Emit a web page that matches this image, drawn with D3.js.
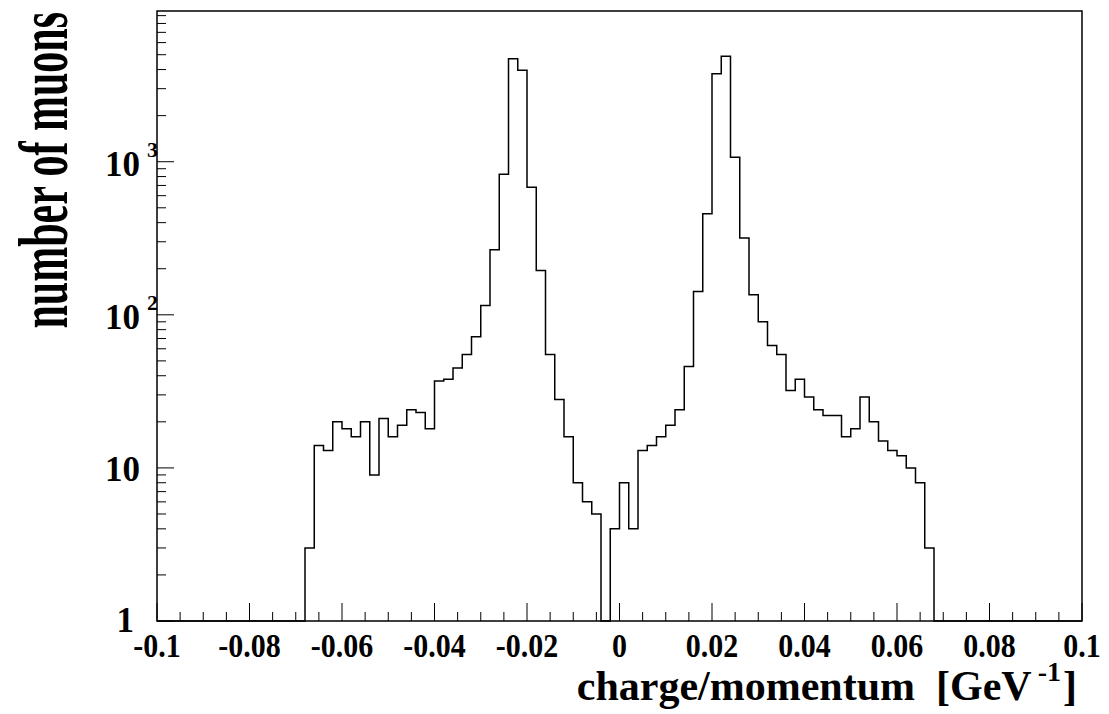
<!DOCTYPE html>
<html>
<head>
<meta charset="utf-8">
<script src="https://cdn.jsdelivr.net/npm/d3@7"></script>
<style>
  html, body { margin: 0; padding: 0; background: #fff; }
  svg { display: block; }
  text { font-family: "Liberation Serif", "Times New Roman", serif; font-weight: bold; fill: #000; white-space: pre; }
</style>
</head>
<body>
<svg id="chart" width="1109" height="714"></svg>
<script>
// Histogram: 100 bins from -0.1 to 0.1 (width 0.002)
const binLow = -0.1;
const binHigh = 0.1;
const binCount = 100;
// counts per bin, left to right
const counts = [
  0,0,0,0,0,0,0,0,0,0,0,0,0,0,0,0,          // -0.100 .. -0.070
  3,14,13,20,18,16,20,9,21,16,               // -0.068 .. -0.050
  19,24,23,18,37,38,45,55,72,115,            // -0.048 .. -0.030
  266,827,4710,3955,681,195,55,28,16,8,      // -0.028 .. -0.010
  6,5,0,4,8,4,13,14,16,19,                   // -0.008 .. 0.010
  24,46,142,457,3756,4880,1069,318,135,90,   // 0.012 .. 0.030
  63,55,32,38,29,24,22,22,16,18,             // 0.032 .. 0.050
  29,20,15,13,12,10,8,3,                     // 0.052 .. 0.066
  0,0,0,0,0,0,0,0,0,0,0,0,0,0,0,0            // 0.068 .. 0.098
];
const xMajorTicks = [-0.1,-0.08,-0.06,-0.04,-0.02,0,0.02,0.04,0.06,0.08,0.1];
const xTickLabels = ["-0.1","-0.08","-0.06","-0.04","-0.02","0","0.02","0.04","0.06","0.08","0.1"];
const yMajorTicks = [1,10,100,1000];
const yTickBase = ["1","10","10","10"];
const yTickExp  = ["","","2","3"];
const yDomain = [1, 9650];
const xTitle = "charge/momentum  [GeV";
const xTitleExp = "-1";
const xTitleEnd = "]";
const yTitle = "number of muons";

const svg = d3.select("#chart");
const L = 157, R = 1082, T = 11, B = 621;

const x = d3.scaleLinear().domain([binLow, binHigh]).range([L, R]);
const y = d3.scaleLog().domain(yDomain).range([B, T]);

// Histogram step path
const bw = (binHigh - binLow) / binCount;
const pts = [];
counts.forEach((c, i) => {
  const v = Math.max(c, yDomain[0]);
  const x0 = binLow + i * bw, x1 = x0 + bw;
  pts.push([x(x0), y(v)]);
  pts.push([x(x1), y(v)]);
});
svg.append("path")
  .attr("d", d3.line()(pts))
  .attr("fill", "none")
  .attr("stroke", "#000")
  .attr("stroke-width", 1.5);

// X ticks
const xMinor = d3.range(0, 41).map(i => +(binLow + i * 0.005).toFixed(4));
svg.append("g").selectAll("line").data(xMinor).join("line")
  .attr("x1", d => x(d)).attr("x2", d => x(d))
  .attr("y1", B).attr("y2", d => B - (xMajorTicks.some(m => Math.abs(m - d) < 1e-9) ? 18 : 9))
  .attr("stroke", "#000").attr("stroke-width", 1);

// Y ticks
const yMinor = [];
[1,10,100,1000].forEach(dec => { for (let k = 1; k <= 9; k++) { const v = dec * k; if (v <= yDomain[1]) yMinor.push(v); } });
svg.append("g").selectAll("line").data(yMinor).join("line")
  .attr("y1", d => y(d)).attr("y2", d => y(d))
  .attr("x1", L).attr("x2", d => L + (yMajorTicks.includes(d) ? 17 : 9))
  .attr("stroke", "#000").attr("stroke-width", 1);

// Frame
svg.append("rect")
  .attr("x", L).attr("y", T).attr("width", R - L).attr("height", B - T)
  .attr("fill", "none").attr("stroke", "#000").attr("stroke-width", 1.5);

// X tick labels
svg.append("g").selectAll("text").data(xMajorTicks).join("text")
  .attr("transform", d => `translate(${x(d)},657) scale(1,1.15)`)
  .attr("text-anchor", "middle")
  .style("font-size", "30px")
  .text((d, i) => xTickLabels[i]);

// Y tick labels
yMajorTicks.forEach((v, i) => {
  if (yTickExp[i] === "") {
    svg.append("text")
      .attr("x", yTickBase[i] === "1" ? 134 : 140).attr("y", y(v) + (yTickBase[i] === "1" ? 11 : 13))
      .attr("text-anchor", "end")
      .style("font-size", "35px")
      .text(yTickBase[i]);
  } else {
    svg.append("text")
      .attr("x", 140).attr("y", y(v) + 14)
      .attr("text-anchor", "end")
      .style("font-size", "35px")
      .text(yTickBase[i]);
    svg.append("text")
      .attr("x", 147).attr("y", y(v) - 5)
      .attr("text-anchor", "start")
      .style("font-size", "22px")
      .text(yTickExp[i]);
  }
});

// X title
const xt = svg.append("text")
  .attr("x", 1077).attr("y", 700)
  .attr("text-anchor", "end")
  .style("font-size", "42px");
xt.append("tspan").text(xTitle);
xt.append("tspan").attr("dx", 6).attr("dy", -19).style("font-size", "28px").text(xTitleExp);
xt.append("tspan").attr("dx", 2).attr("dy", 19).text(xTitleEnd);

// Y title
svg.append("text")
  .attr("transform", "translate(67,12) rotate(-90) scale(1,1.65)")
  .attr("text-anchor", "end")
  .style("font-size", "42px")
  .text(yTitle);
</script>
</body>
</html>
